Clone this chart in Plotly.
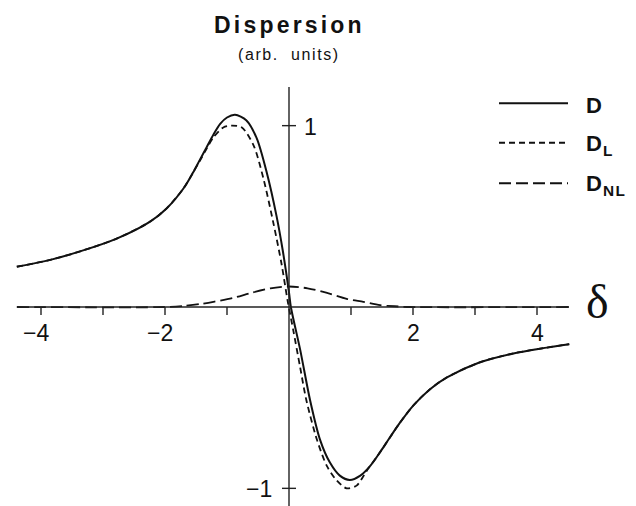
import plotly.graph_objects as go

# Detuning values and the three dispersion curves
delta_d = [-4.39, -3.85, -3.32, -2.78, -2.24, -1.97, -1.70, -1.55, -1.44, -1.33, -1.22,
           -1.11, -1.00, -0.87, -0.69, -0.52, -0.36, -0.20, -0.10, 0.00, 0.03, 0.18,
           0.34, 0.50, 0.66, 0.82, 0.98, 1.15, 1.31, 1.47, 1.63, 1.79, 2.00, 2.27,
           2.54, 3.08, 3.62, 4.16, 4.52]
d_total = [0.222, 0.260, 0.312, 0.377, 0.471, 0.545, 0.655, 0.740, 0.810, 0.880, 0.950,
           1.010, 1.045, 1.060, 1.030, 0.930, 0.743, 0.500, 0.310, 0.080, 0.000, -0.235,
           -0.514, -0.731, -0.858, -0.930, -0.954, -0.930, -0.876, -0.800, -0.718, -0.638,
           -0.545, -0.455, -0.390, -0.305, -0.256, -0.224, -0.205]

delta_l = [-4.39, -3.85, -3.32, -2.78, -2.24, -1.97, -1.70, -1.55, -1.44, -1.33, -1.22,
           -1.06, -0.92, -0.76, -0.57, -0.41, -0.25, -0.12, -0.02, 0.07, 0.18, 0.28,
           0.45, 0.61, 0.77, 0.93, 1.09, 1.25, 1.41, 1.55, 1.63, 1.79, 2.00, 2.27,
           2.54, 3.08, 3.62, 4.16, 4.52]
d_linear = [0.222, 0.260, 0.312, 0.377, 0.471, 0.545, 0.655, 0.740, 0.805, 0.872, 0.935,
            0.990, 1.000, 0.990, 0.890, 0.705, 0.460, 0.237, 0.030, -0.130, -0.333, -0.514,
            -0.731, -0.876, -0.957, -1.000, -0.985, -0.905, -0.830, -0.760, -0.718, -0.638,
            -0.545, -0.455, -0.390, -0.305, -0.256, -0.224, -0.205]

delta_nl = [-4.39, -2.00, -1.70, -1.44, -1.20, -0.90, -0.60, -0.30, 0.00, 0.30,
            0.60, 0.93, 1.20, 1.47, 1.70, 1.95, 4.52]
d_nonlinear = [0.000, 0.000, 0.006, 0.016, 0.030, 0.050, 0.079, 0.103, 0.113, 0.103,
               0.079, 0.045, 0.028, 0.010, 0.004, 0.000, 0.000]

x_ticks = [-4, -3, -2, -1, 1, 2, 3, 4]
x_labels = {-4: "\u22124", -2: "\u22122", 2: "2", 4: "4"}
y_ticks = [1, -1]
y_labels = {1: "1", -1: "\u22121"}

series_names = ["D", "D<sub>L</sub>", "D<sub>NL</sub>"]

W, H = 636, 506
X0_PX, X_SCALE = 289.0, 62.0       # pixel of delta=0, pixels per unit
Y0_PX, Y_SCALE = 307.0, 181.35     # pixel of D=0, pixels per unit
x_range = [-X0_PX / X_SCALE, (W - X0_PX) / X_SCALE]
y_range = [-(H - Y0_PX) / Y_SCALE, Y0_PX / Y_SCALE]

INK = "#111111"
DASH_SHORT = "6px,4px"
DASH_LONG = "12px,5px"

fig = go.Figure()
fig.add_trace(go.Scatter(x=delta_nl, y=d_nonlinear, mode="lines",
                         line=dict(color=INK, width=1.8, dash=DASH_LONG, shape="spline", smoothing=0.8),
                         showlegend=False, hoverinfo="skip"))
fig.add_trace(go.Scatter(x=delta_l, y=d_linear, mode="lines",
                         line=dict(color=INK, width=1.8, dash=DASH_SHORT, shape="spline", smoothing=0.8),
                         showlegend=False, hoverinfo="skip"))
fig.add_trace(go.Scatter(x=delta_d, y=d_total, mode="lines",
                         line=dict(color=INK, width=2.0, shape="spline", smoothing=0.8),
                         showlegend=False, hoverinfo="skip"))

shapes = []
axis_line = dict(color="#222222", width=1.4)
# horizontal axis through D = 0
shapes.append(dict(type="line", xref="x", yref="y", x0=(17 - X0_PX) / X_SCALE,
                   x1=(569 - X0_PX) / X_SCALE, y0=0, y1=0, line=axis_line))
# vertical axis through delta = 0
shapes.append(dict(type="line", xref="x", yref="y", x0=0, x1=0,
                   y0=y_range[0], y1=(Y0_PX - 87) / Y_SCALE, line=axis_line))
for t in x_ticks:
    shapes.append(dict(type="line", xref="x", yref="y", x0=t, x1=t,
                       y0=0, y1=-8 / Y_SCALE, line=axis_line))
for t in y_ticks:
    shapes.append(dict(type="line", xref="x", yref="y", x0=-7 / X_SCALE, x1=7 / X_SCALE,
                       y0=t, y1=t, line=axis_line))

annotations = []
tick_font = dict(family="Liberation Sans, Arial, sans-serif", size=23, color=INK)
for t, txt in x_labels.items():
    shift = -5 if t < 0 else 0
    annotations.append(dict(x=t, y=0, xref="x", yref="y", text=txt, showarrow=False,
                            xanchor="center", yanchor="middle", xshift=shift, yshift=-26,
                            font=tick_font))
annotations.append(dict(x=0, y=1, xref="x", yref="y", text=y_labels[1], showarrow=False,
                        xanchor="left", yanchor="middle", xshift=13, yshift=-1, font=tick_font))
annotations.append(dict(x=0, y=-1, xref="x", yref="y", text=y_labels[-1], showarrow=False,
                        xanchor="right", yanchor="middle", xshift=-15, yshift=-1, font=tick_font))

# axis symbol
annotations.append(dict(x=597 / W, y=1 - 301 / H, xref="paper", yref="paper",
                        text="\u03b4", showarrow=False, xanchor="center", yanchor="middle",
                        font=dict(family="Liberation Serif, Times New Roman, serif", size=48, color=INK)))

# title block
annotations.append(dict(x=289 / W, y=1 - 25 / H, xref="paper", yref="paper",
                        text='<span style="letter-spacing:3.2px"><b>Dispersion</b></span>',
                        showarrow=False, xanchor="center", yanchor="middle",
                        font=dict(family="Liberation Sans, Arial, sans-serif", size=23, color=INK)))
annotations.append(dict(x=289 / W, y=1 - 54 / H, xref="paper", yref="paper",
                        text='<span style="letter-spacing:1.6px">(arb.\u00a0\u00a0units)</span>',
                        showarrow=False, xanchor="center", yanchor="middle",
                        font=dict(family="Liberation Sans, Arial, sans-serif", size=16, color=INK)))

# key
key_rows = [(103.3, None), (142.7, DASH_SHORT), (183.3, DASH_LONG)]
for (py, dash), name in zip(key_rows, series_names):
    ln = dict(color=INK, width=2.0)
    if dash:
        ln["dash"] = dash
    shapes.append(dict(type="line", xref="paper", yref="paper", x0=499 / W, x1=568 / W,
                       y0=1 - py / H, y1=1 - py / H, line=ln))
    annotations.append(dict(x=584 / W, y=1 - (py + 2) / H, xref="paper", yref="paper",
                            text='<span style="letter-spacing:1.2px"><b>' + name + "</b></span>",
                            showarrow=False, xanchor="left", yanchor="middle",
                            font=dict(family="Liberation Sans, Arial, sans-serif", size=22, color=INK)))

fig.update_layout(
    width=W, height=H,
    margin=dict(l=0, r=0, t=0, b=0),
    paper_bgcolor="white", plot_bgcolor="white",
    xaxis=dict(range=x_range, visible=False, fixedrange=True),
    yaxis=dict(range=y_range, visible=False, fixedrange=True),
    shapes=shapes, annotations=annotations,
    showlegend=False,
)

fig.write_html("out.html")
